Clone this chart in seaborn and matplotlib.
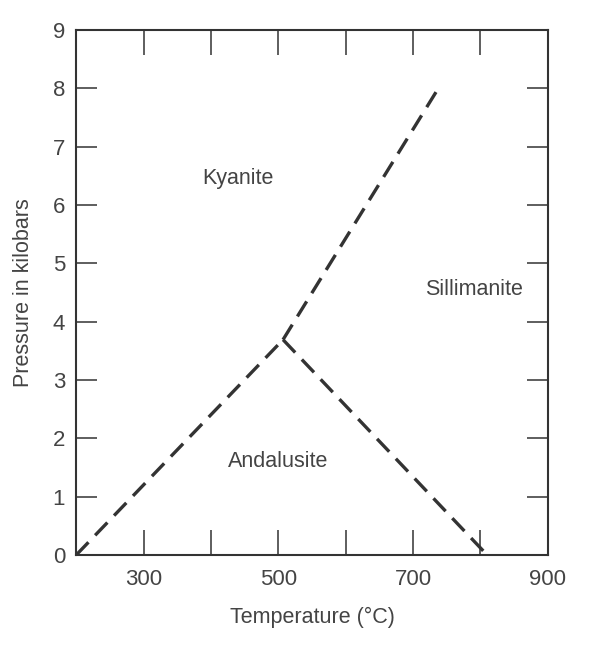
import numpy as np
import pandas as pd
import matplotlib
matplotlib.use('Agg')
import matplotlib.pyplot as plt
import seaborn as sns

# 相界线 (温度 °C, 压力 kbar)
ky_and_T = [200, 507]
ky_and_P = [0.0, 3.69]
ky_sil_T = [507, 735]
ky_sil_P = [3.69, 7.95]
and_sil_T = [507, 810]
and_sil_P = [3.69, 0.0]

phase_names = ['Kyanite', 'Sillimanite', 'Andalusite']
phase_T = [440, 790, 500]
phase_P = [6.45, 4.55, 1.6]

x_major = [300, 500, 700, 900]
x_minor = [200, 400, 600, 800]
y_ticks = list(range(0, 10))

sns.set_style('ticks')
plt.rcParams['font.family'] = ['Liberation Sans', 'DejaVu Sans']
ink = '#333333'
txt = '#444444'

fig = plt.figure(figsize=(6, 6.48), dpi=100)
ax = fig.add_axes([0.127, 0.1435, 0.786, 0.8105])

for T, P in [(ky_and_T, ky_and_P), (ky_sil_T, ky_sil_P), (and_sil_T, and_sil_P)]:
    df = pd.DataFrame({'T': T, 'P': P})
    sns.lineplot(data=df, x='T', y='P', sort=False, ax=ax, color=ink,
                 linewidth=2.4)
for line in ax.get_lines():
    line.set_dashes([5.3, 2.9])
    line.set_solid_capstyle('butt')

for name, t, p in zip(phase_names, phase_T, phase_P):
    ax.text(t, p, name, ha='center', va='center', fontsize=15.5, color=txt)

ax.set_xlim(200, 900)
ax.set_ylim(0, 9)
ax.set_xticks(x_major)
ax.set_xticks(x_minor, minor=True)
ax.set_yticks(y_ticks)
ax.tick_params(axis='x', which='both', direction='in', length=18, width=1.1,
               top=True, bottom=True, color=ink, labelcolor=txt, labelsize=16, pad=10)
ax.tick_params(axis='y', which='both', direction='in', length=15, width=1.1,
               left=True, right=True, color=ink, labelcolor=txt, labelsize=16, pad=8)
for s in ax.spines.values():
    s.set_visible(True)
    s.set_linewidth(1.5)
    s.set_color(ink)

ax.set_xlabel('Temperature (°C)', fontsize=15.5, color=txt, labelpad=12)
ax.set_ylabel('Pressure in kilobars', fontsize=15.5, color=txt)
ax.yaxis.set_label_coords(-0.09, 0.5)

plt.savefig('out.png', dpi=100)
